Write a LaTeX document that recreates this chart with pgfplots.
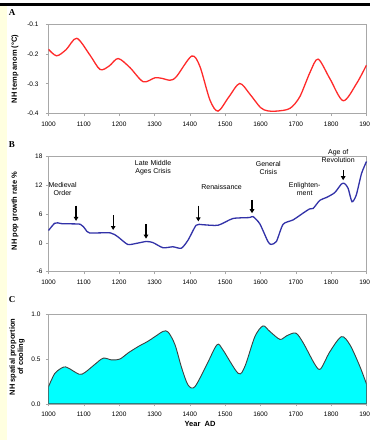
\documentclass[border=0pt]{standalone}
\usepackage{fontspec}
\setmainfont{Liberation Sans}
\newfontfamily\seriffont{Liberation Serif}
\usepackage{pgfplots}
\pgfplotsset{compat=1.18}
\usetikzlibrary{arrows.meta}
\definecolor{redline}{HTML}{FF2A2A}
\definecolor{blueline}{HTML}{3232A8}
\definecolor{cyanfill}{HTML}{00FFFF}
\definecolor{paleyellow}{HTML}{FFFFE0}
\definecolor{axgray}{HTML}{A8A8A8}

\pgfplotsset{
  panel/.style={
    scale only axis, width=318pt, xmin=1000, xmax=1900,
    xtick={1000,1100,...,1900},
    axis line style={axgray, line width=0.6pt},
    tick style={axgray, line width=0.6pt},
    tick align=outside, major tick length=2.5pt,
    xtick pos=bottom, ytick pos=left,
    tick label style={font=\fontsize{6.5}{7.5}\selectfont, text=black},
    xticklabel style={yshift=-2pt},
    /pgf/number format/1000 sep={},
    /pgf/number format/assume math mode=true,
    anchor=north west,
  },
}
\tikzset{
  ann/.style={font=\fontsize{7}{7.8}\selectfont, align=center},
  arr/.style={-{Triangle[length=4pt,width=4.5pt]}, line width=1.3pt, black},
}

\pgfplotstableread{
year val
1000 -0.184
1023 -0.206
1050 -0.185
1080 -0.147
1117 -0.203
1146 -0.252
1172 -0.240
1197 -0.215
1230 -0.245
1268 -0.293
1301 -0.280
1322 -0.282
1344 -0.288
1362 -0.276
1405 -0.207
1428 -0.240
1457 -0.355
1480 -0.392
1510 -0.345
1541 -0.299
1570 -0.335
1600 -0.380
1620 -0.391
1645 -0.392
1683 -0.383
1711 -0.344
1740 -0.262
1763 -0.217
1796 -0.282
1834 -0.357
1872 -0.299
1900 -0.237
}\tempdata

\pgfplotstableread{
year val
1000 2.6
1017 4.1
1026 4.2
1040 4.0
1090 3.9
1105 2.8
1116 2.1
1175 2.1
1196 1.3
1224 -0.3
1248 -0.1
1276 0.3
1295 0.1
1324 -1.0
1352 -0.8
1376 -1.1
1395 0.6
1418 3.7
1437 3.8
1480 3.7
1522 5.1
1569 5.3
1579 5.5
1598 4.0
1621 0.3
1630 -0.3
1645 0.3
1664 3.9
1692 4.8
1720 6.2
1739 7.1
1749 7.2
1768 8.9
1787 9.5
1810 10.5
1829 12.3
1838 12.4
1848 11.4
1859 8.6
1871 10.0
1886 14.5
1900 17.0
}\popdata

\pgfplotstableread{
year val
1000 0.19
1018 0.34
1042 0.41
1056 0.40
1087 0.33
1103 0.35
1131 0.44
1155 0.51
1179 0.49
1202 0.50
1226 0.57
1254 0.64
1282 0.70
1301 0.75
1325 0.81
1339 0.80
1358 0.66
1377 0.40
1395 0.21
1414 0.19
1447 0.43
1477 0.66
1494 0.60
1537 0.34
1556 0.42
1584 0.75
1607 0.87
1626 0.81
1655 0.72
1674 0.76
1700 0.79
1721 0.68
1754 0.44
1770 0.39
1796 0.58
1829 0.75
1853 0.66
1881 0.42
1900 0.22
}\cooldata

\begin{document}
\begin{tikzpicture}
\useasboundingbox (0,0) rectangle (370pt,-440pt);
\clip (0,0) rectangle (370pt,-440pt);
\fill[white] (0,0) rectangle (370pt,-440pt);
\fill[paleyellow] (0,-6pt) rectangle (7pt,-440pt);
\fill[black] (0,-3.3pt) rectangle (370pt,-6pt);

% Panel A
\begin{axis}[panel, at={(48.5pt,-24.3pt)}, height=89.2pt,
  ymin=-0.4, ymax=-0.1, ytick={-0.4,-0.3,-0.2,-0.1},
  yticklabel style={/pgf/number format/fixed, /pgf/number format/precision=1, xshift=-4pt}]
\addplot[redline, line width=1.3pt, smooth, tension=0.5] table[x=year,y=val] {\tempdata};
\end{axis}

% Panel B
\begin{axis}[panel, at={(48.5pt,-156.7pt)}, height=115pt,
  ymin=-6, ymax=18, ytick={-6,0,6,12,18}, clip=false]
\addplot[blueline, line width=1.3pt, smooth, tension=0.4] table[x=year,y=val] {\popdata};
\draw[arr] (axis cs:1078,7.8) -- (axis cs:1078,4.6);
\draw[arr] (axis cs:1183,5.8) -- (axis cs:1183,2.7);
\draw[arr] (axis cs:1276,3.9) -- (axis cs:1276,0.9);
\draw[arr] (axis cs:1424,7.8) -- (axis cs:1424,4.5);
\draw[arr] (axis cs:1576,9.0) -- (axis cs:1576,6.2);
\draw[arr] (axis cs:1834,15.2) -- (axis cs:1834,13.1);
\node[ann] at (axis cs:1040,11.2) {Medieval\\Order};
\node[ann] at (axis cs:1296,15.7) {Late Middle\\Ages Crisis};
\node[ann] at (axis cs:1490,11.7) {Renaissance};
\node[ann] at (axis cs:1622,15.7) {General\\Crisis};
\node[ann] at (axis cs:1725,11.2) {Enlighten-\\ment};
\node[ann] at (axis cs:1820,18.1) {Age of\\Revolution};
\end{axis}

% Panel C
\begin{axis}[panel, at={(48.5pt,-314.3pt)}, height=89.5pt,
  ymin=0, ymax=1, ytick={0,0.5,1},
  yticklabel style={/pgf/number format/fixed, /pgf/number format/fixed zerofill, /pgf/number format/precision=1, xshift=-2pt}]
\addplot[draw=black!75, line width=0.9pt, fill=cyanfill, smooth, tension=0.5] table[x=year,y=val] {\cooldata} \closedcycle;
\end{axis}

% panel letters and labels
\node[font=\seriffont\bfseries\fontsize{9}{10}\selectfont] at (12pt,-13pt) {A};
\node[font=\seriffont\bfseries\fontsize{9}{10}\selectfont] at (12pt,-145pt) {B};
\node[font=\seriffont\bfseries\fontsize{9}{10}\selectfont] at (12pt,-300pt) {C};
\node[rotate=90, font=\bfseries\fontsize{7.5}{8.5}\selectfont] at (15pt,-69pt) {NH temp anom (°C)};
\node[rotate=90, font=\bfseries\fontsize{7.5}{8.5}\selectfont] at (15pt,-211pt) {NH pop growth rate \%};
\node[rotate=90, font=\bfseries\fontsize{7.5}{8.2}\selectfont, align=center] at (17pt,-357pt) {NH spatial proportion\\of cooling};
\node[font=\bfseries\fontsize{7.5}{8.5}\selectfont] at (200pt,-424pt) {Year\ \ AD};
\end{tikzpicture}
\end{document}
